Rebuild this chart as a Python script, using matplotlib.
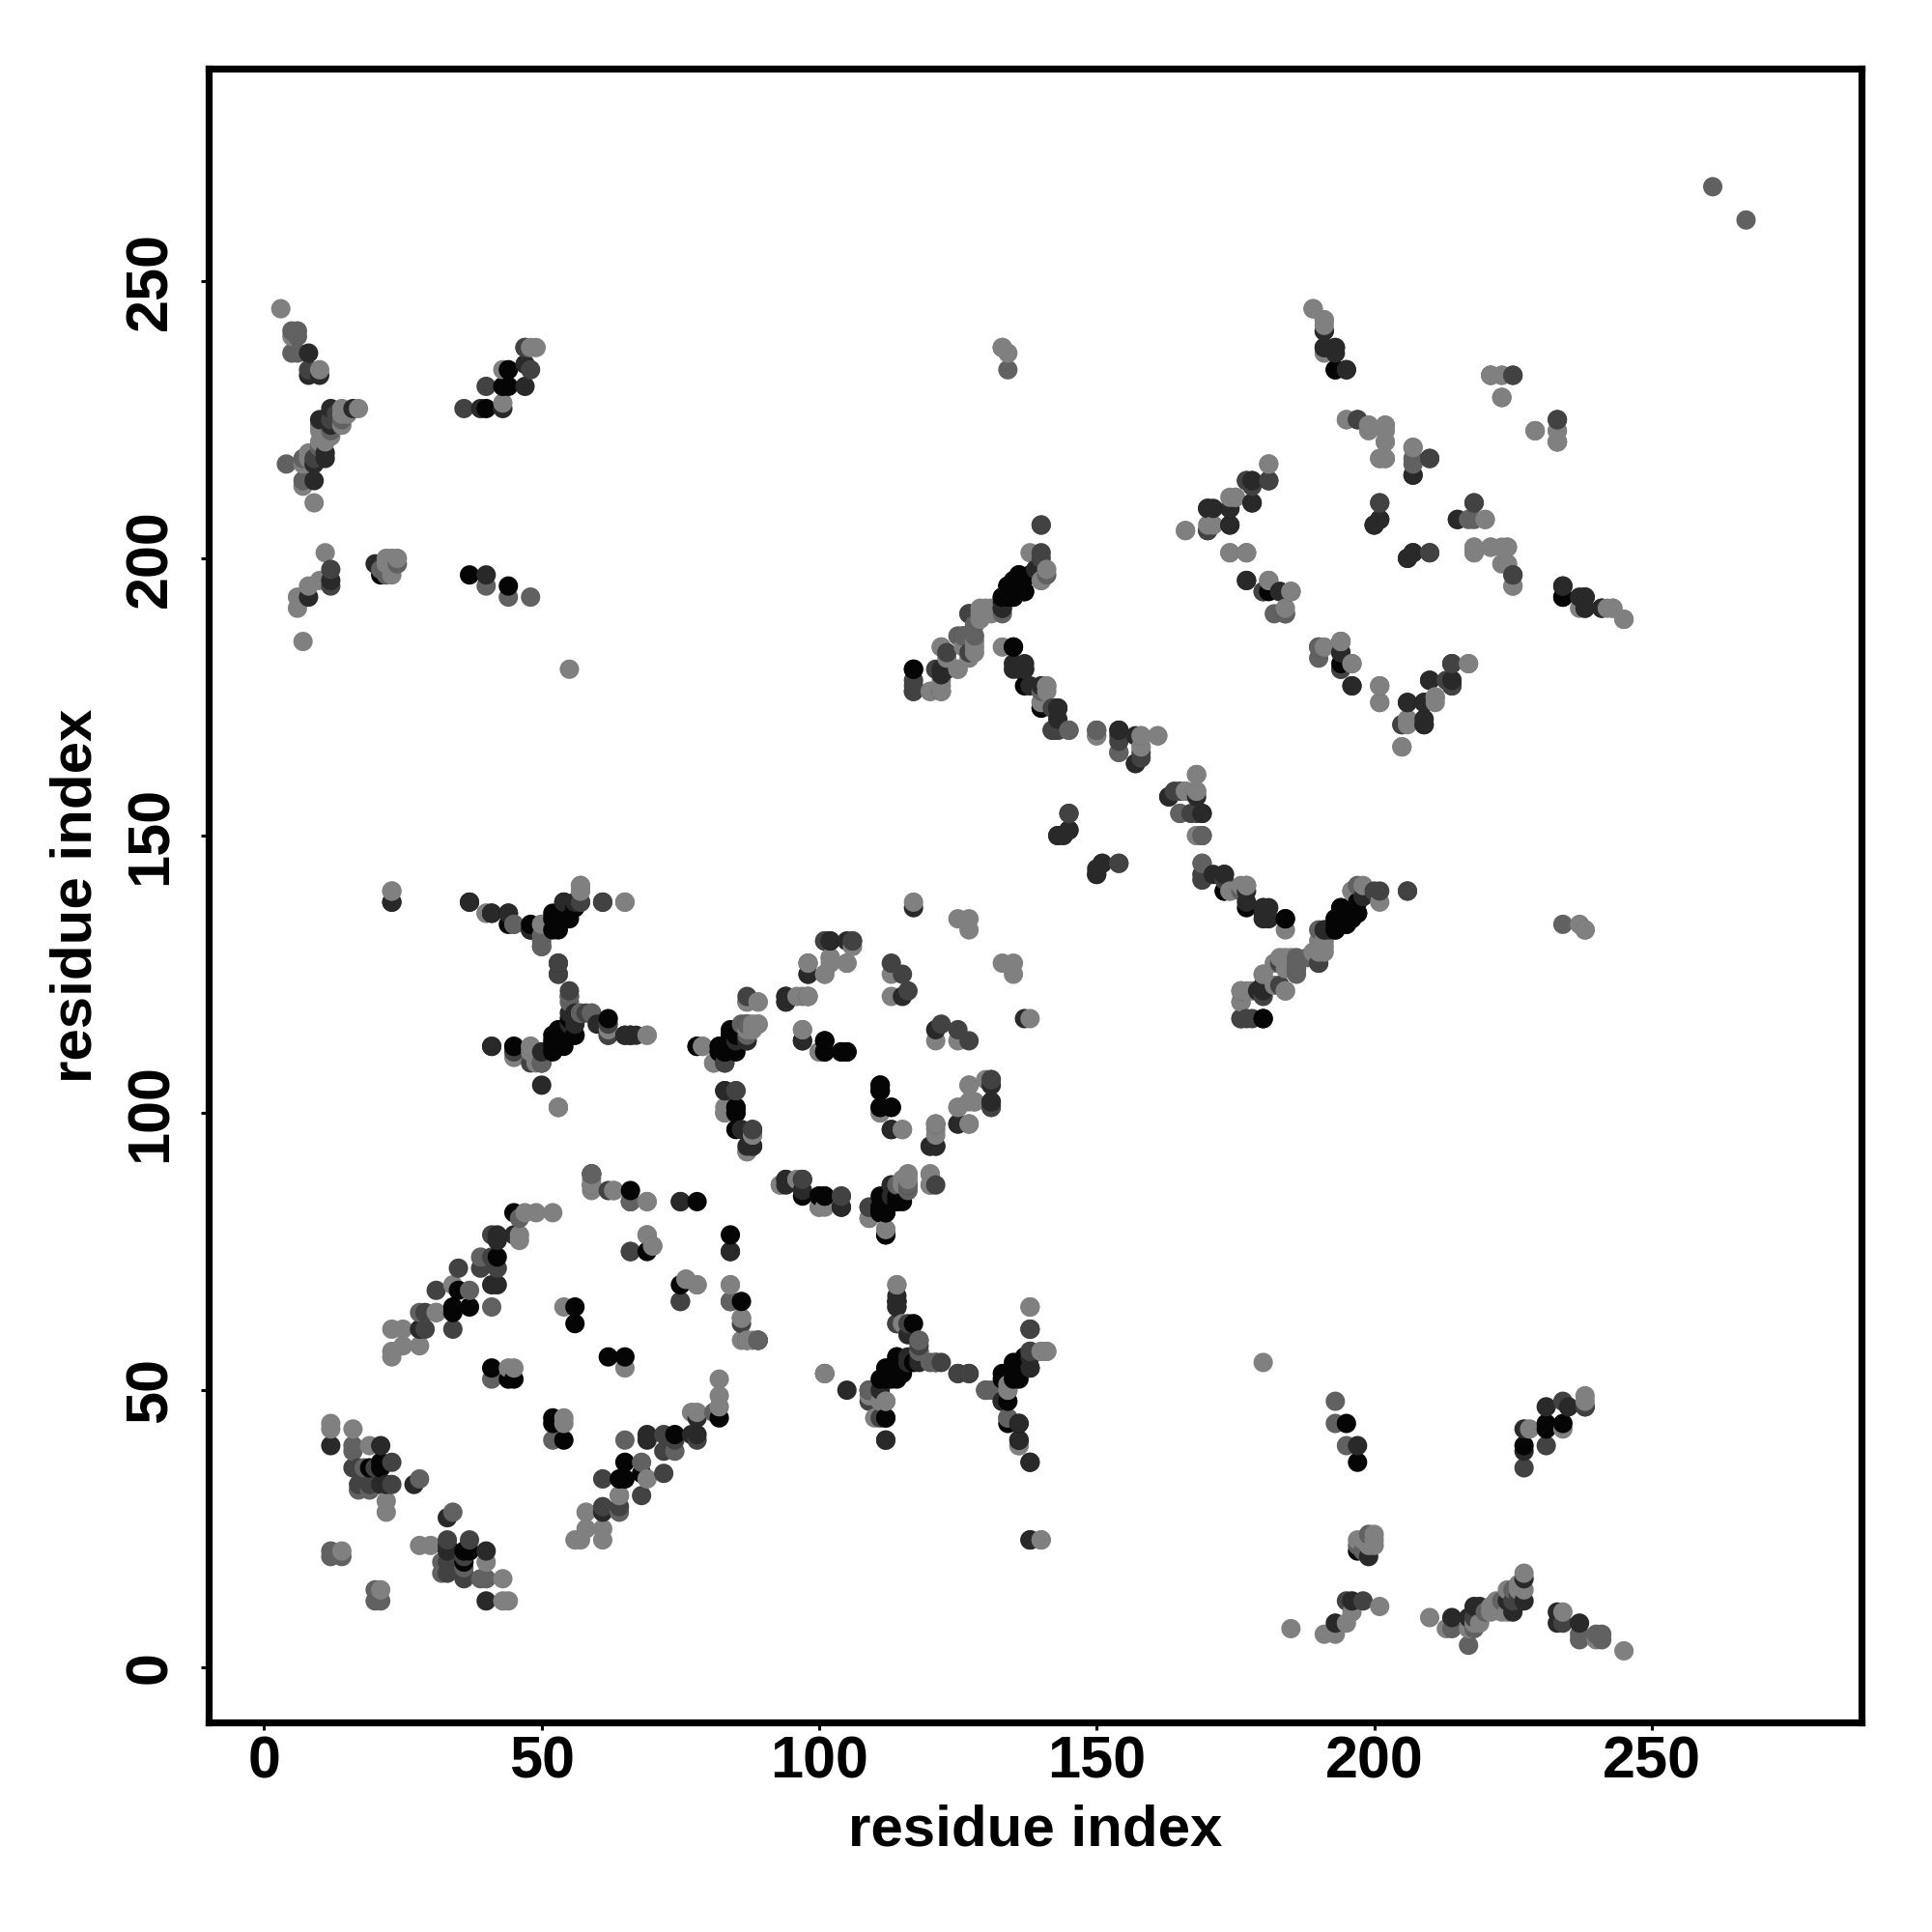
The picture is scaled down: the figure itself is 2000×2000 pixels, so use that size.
import numpy as np
import matplotlib
matplotlib.use("Agg")
import matplotlib.pyplot as plt

plt.rcParams['font.family'] = ['Liberation Sans', 'DejaVu Sans']

# residue contacts, (i, j) with i < j, split by grey level
contacts_black = [
    (19,36),(21,36),(21,37),(35,68),(34,64),(34,65),(37,65),(42,74),(41,54),(44,52),(45,52),
    (56,65),(56,62),(69,75),(78,84),(66,86),(45,82),(45,112),(52,112),(52,114),(53,112),(53,114),
    (54,113),(55,116),(56,114),(62,117),(41,136),(44,134),(44,136),(48,133),(48,134),(52,133),
    (52,135),(53,133),(54,135),(55,135),(40,227),(43,231),(44,231),(44,234),(21,197),(37,197),
    (44,195),(193,234),(200,206),(174,209),(181,194),(134,193),(134,195),(135,196),(136,197),
    (117,180),(135,184),(137,177),(140,173),(173,140),(184,135),(193,135),(194,137),(195,134),
    (197,136),(193,133),(194,134),(180,117),(234,193),(101,113),(101,111),(104,111),(105,111),
    (84,114),(85,111),(83,111),(82,111),(84,113),(85,112),(83,104),(85,100),(85,101),(85,97),
    (78,112),(100,85),(101,85),(111,105),(111,104),(111,101),(113,101),(112,78),(111,82),(112,83),
    (114,84),(115,84),
    # dense strands, second pass
    (52,111),(52,113),(54,112),(56,114),(53,115),(54,115),(55,117),(45,112),(54,135),(56,137),(54,136),
    (52,136),(53,135),(54,138),(137,194),(135,193),(133,193),(197,138),(82,112),(83,111),(84,112),(85,114),
    (83,112),(112,82),(111,83),(112,85),(113,84),
]
contacts_dark = [
    (12,40),(21,40),(21,33),(22,33),(27,33),(28,61),(42,78),(42,77),(45,78),(41,69),(42,69),
    (75,84),(66,75),(84,75),(60,116),(65,114),(66,114),(41,112),(50,111),(50,109),(50,105),
    (53,127),(37,138),(44,136),(56,138),(23,138),(8,237),(8,233),(10,233),(12,227),(16,227),
    (10,225),(11,218),(9,217),(9,214),(8,193),(12,196),(20,199),(40,197),(39,227),(43,227),(47,231),
    (47,235),(47,238),(191,241),(191,238),(193,238),(193,237),(195,234),(207,215),(201,207),(215,207),
    (207,201),(206,200),(178,214),(177,214),(178,210),(171,209),(170,209),(174,206),(177,196),(183,194),
    (194,183),(194,180),(196,177),(206,174),(205,170),(209,174),(209,170),(210,178),(214,178),(214,181),
    (234,195),(238,193),(238,191),(241,191),(133,191),(139,198),(122,179),(123,180),(117,176),
    (135,181),(137,181),(135,180),(137,180),(143,173),(143,171),(154,169),(157,168),(157,163),
    (163,157),(169,154),(145,151),(143,150),(151,145),(150,143),(150,144),(173,143),(177,140),(177,138),
    (180,137),(180,136),(191,133),(192,133),(180,123),(180,122),(94,120),(94,121),
    (87,113),(85,113),(87,116),(97,113),(98,125),(102,131),(105,131),(115,121),(113,87),(113,97),
    (121,94),(120,94),(125,98),(131,102),(104,83),(97,86),(97,88),(94,88),(87,94),(88,94),(117,137),
    (62,114),(66,114),(67,114),(56,116),(55,118),(133,48),(138,57),(138,23),(136,41),(138,37),(114,66),
    (114,65),(112,41),(116,55),(118,56),(54,138),(61,138),(83,109),(11,219),(12,224),
]
contacts_middark = [
    (17,33),(17,36),(16,36),(20,36),(19,33),(23,37),(23,33),(29,61),(29,64),(31,68),(35,72),(34,61),
    (39,72),(41,74),(41,78),(42,72),(59,89),(62,86),(66,84),(75,66),(89,59),(62,116),(62,114),
    (50,130),(57,138),(55,121),(53,125),(48,109),(45,111),(8,234),(12,225),(12,198),(12,195),
    (36,227),(40,231),(47,238),(48,234),(197,225),(210,218),(201,210),(218,210),(210,201),(225,233),(233,225),
    (225,197),(181,214),(178,213),(170,205),(180,194),(184,190),(194,185),(214,177),(140,201),(140,206),
    (127,190),(123,183),(121,180),(122,176),(117,177),(140,174),(142,169),(143,169),(154,168),(154,167),
    (154,165),(158,165),(164,158),(145,154),(154,145),(169,150),(169,142),(169,143),(173,142),(196,140),
    (200,140),(206,140),(186,126),(190,127),(183,127),(178,117),(176,117),(109,83),(104,85),
    (98,127),(106,131),(113,127),(115,125),(116,122),(85,104),(88,97),(121,98),(121,87),(131,101),
    (131,106),(101,131),(122,55),(125,53),(127,53),(138,61),(109,50),(9,218),(13,226),(58,118),
]
contacts_mid = [
    (12,21),(12,20),(14,20),(16,39),(16,40),(17,32),(19,32),(28,34),(18,36),(28,64),(31,64),(37,68),(39,74),
    (41,65),(46,81),(41,52),(59,87),(66,84),(70,76),(84,66),(87,59),(89,59),(48,112),(50,132),(55,120),(53,101),
    (5,241),(6,241),(5,237),(6,237),(4,217),(7,214),(6,240),(40,195),(44,193),(48,193),(199,224),
    (221,233),(207,217),(218,207),(134,234),(133,238),(201,177),(196,181),(182,190),(190,184),
    (126,186),(125,186),(120,176),(140,176),(145,169),(150,169),(158,168),(165,154),(169,145),(45,134),
    (261,267),(229,223),(197,141),(186,128),(121,55),(130,50),(131,50),(109,50),(57,118),(59,118),(118,57),
    (133,190),(127,186),(128,188),(86,116),(120,87),(116,87),(114,87),(7,218),(10,220),(12,223),(14,225),
    (21,198),(22,197),(24,199),(50,134),(45,134),(118,59),
]
contacts_gray = [
    (12,44),(12,43),(16,43),(19,40),(22,30),(22,28),(14,21),(23,61),(25,61),(23,56),(25,58),(23,57),(28,58),
    (34,69),(31,64),(46,78),(46,77),(47,82),(49,82),(52,82),(44,54),(45,54),(54,65),(59,86),(63,86),(69,84),
    (69,78),(76,70),(78,69),(84,69),(86,63),(87,59),(88,59),(69,114),(53,101),(40,136),(57,140),(51,134),
    (57,141),(65,138),(23,140),(3,245),(5,240),(8,218),(8,219),(7,217),(7,213),(9,210),(10,234),(14,227),(17,227),
    (14,226),(14,224),(10,223),(12,222),(10,221),(10,224),(11,221),(15,226),(11,201),(10,196),(8,195),(6,193),(6,191),(7,185),(22,200),
    (23,200),(23,197),(22,199),(23,198),(24,200),(55,180),(43,228),(43,234),(49,238),(48,238),(133,238),(134,237),(189,245),
    (191,243),(191,242),(195,225),(202,224),(202,223),(202,221),(202,218),(201,218),(207,220),(221,233),(223,233),
    (223,229),(233,223),(233,221),(181,217),(175,211),(171,206),(166,205),(174,201),(177,201),(181,196),
    (185,194),(184,191),(194,185),(201,174),(205,166),(206,170),(211,175),(211,174),(217,181),
    (220,207),(218,202),(218,201),(221,202),(224,202),(223,199),(224,199),(225,195),(237,191),
    (243,191),(245,189),(141,198),(138,201),(140,196),(131,190),(129,190),(130,190),(128,185),(128,183),(127,182),
    (122,184),(125,180),(122,178),(122,177),(141,177),(141,176),(161,168),(158,166),(150,168),(168,161),(168,158),
    (166,158),(168,150),(174,140),(177,141),(184,133),(191,131),(191,130),(191,129),(189,129),(184,128),(184,126),(184,122),(182,123),
    (180,125),(176,122),(176,120),(117,138),(125,135),(127,135),(127,133),(98,121),(97,121),(101,125),(102,128),
    (105,127),(113,125),(113,121),(87,120),(89,120),(87,115),(89,116),(88,116),(88,115),(79,112),(81,109),(97,115),
    (100,111),(83,100),(115,97),(111,100),(88,96),(87,93),(121,96),(120,89),(116,89),(127,98),(125,101),
    (127,102),(128,102),(127,105),(130,106),(93,87),(96,88),(100,83),(101,83),(112,79),(109,81),(101,53),(112,48),
    (110,45),(140,23),(138,65),(140,57),(141,57),(136,40),(134,50),(114,69),(115,62),(49,109),(48,111),
]

grey_levels = [0.02, 0.16, 0.26, 0.38, 0.5]
groups = [contacts_black, contacts_dark, contacts_middark, contacts_mid, contacts_gray]
tick_vals = [0, 50, 100, 150, 200, 250]

rows = []
for level, group in zip(grey_levels, groups):
    for i, j in group:
        a, b = min(i, j), max(i, j)
        rows.append((a, b, level))
        rows.append((b, a, level))
rows = np.array(rows)
# same order as the original map: by x, then y
rows = rows[np.lexsort((rows[:, 1], rows[:, 0]))]

fig = plt.figure(figsize=(10, 10), dpi=200)
ax = fig.add_axes([216 / 2000, 1 - 1783 / 2000, (1927 - 216) / 2000, (1783 - 71) / 2000])
ax.scatter(rows[:, 0], rows[:, 1], s=52, c=[str(v) for v in rows[:, 2]], linewidths=0, zorder=2)

ax.set_xlim(-10.0, 287.8)
ax.set_ylim(-9.9, 288.3)
ax.set_xticks(tick_vals)
ax.set_yticks(tick_vals)
ax.tick_params(length=3, width=1.1)
ax.tick_params(axis='x', pad=2)
ax.tick_params(axis='y', pad=8)
for lab in ax.get_xticklabels():
    lab.set_fontsize(22)
    lab.set_fontweight('bold')
for lab in ax.get_yticklabels():
    lab.set_fontsize(22)
    lab.set_fontweight('bold')
    lab.set_rotation(90)
    lab.set_va('center')
for s in ax.spines.values():
    s.set_linewidth(2.6)
ax.set_xlabel("residue index", fontsize=21.6, fontweight='bold', va='center')
ax.set_ylabel("residue index", fontsize=21.6, fontweight='bold', va='center')
ax.xaxis.set_label_coords(0.5, -0.0654)
ax.yaxis.set_label_coords(-0.080, 0.5)

fig.savefig("out.png", dpi=200)
